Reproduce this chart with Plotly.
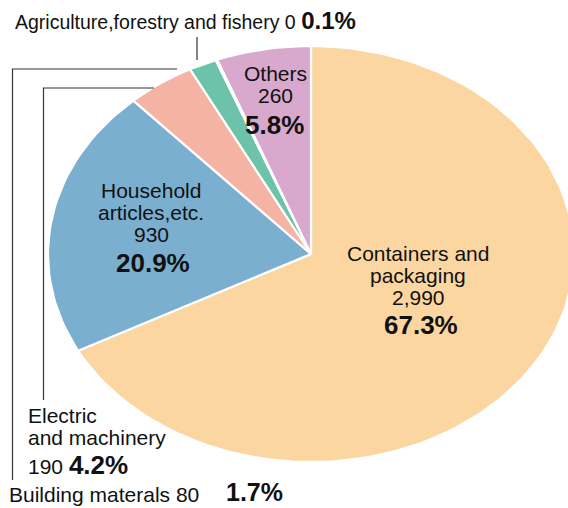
import numpy as np
import plotly.graph_objects as go

categories = ["Containers and packaging", "Household articles,etc.", "Electric and machinery",
              "Building materals", "Agriculture,forestry and fishery", "Others"]
values = [2990, 930, 190, 80, 0, 260]
shares = [67.3, 20.9, 4.2, 1.7, 0.1, 5.8]
colors = ["#FCD6A1", "#7BAFD0", "#F4B3A3", "#6CC3AA", "#F0BE4C", "#D8A9CD"]

W, H = 568, 508
cx, cy, rx, ry = 311, 254, 263, 208

fig = go.Figure()
total = sum(shares)
cum = 0.0
for name, s, c in zip(categories, shares, colors):
    t0 = cum / total * 2 * np.pi
    cum += s
    t1 = cum / total * 2 * np.pi
    t = np.linspace(t0, t1, max(4, int(200 * s / total) + 4))
    xs = np.concatenate([[cx], cx + rx * np.sin(t), [cx]])
    ys = np.concatenate([[cy], cy - ry * np.cos(t), [cy]])
    fig.add_trace(go.Scatter(x=xs, y=ys, mode="lines", fill="toself", fillcolor=c,
                             line=dict(color="white", width=2.2), name=name,
                             hoverinfo="name", showlegend=False))

REG = "Liberation Sans, Arial, sans-serif"
def pct(v, size=26):
    return f"<span style='font-family:Liberation Sans;font-weight:bold;font-size:{size}px'>{v:.1f}%</span>"

ann = []
def add(x, y, text, anchor="center", size=21, yanchor="middle"):
    ann.append(dict(x=x, y=y, text=text, showarrow=False, xanchor=anchor, yanchor=yanchor,
                    font=dict(family=REG, size=size, color="#111111"), xref="x", yref="y"))

# Containers
add(418, 253, "Containers and")
add(418, 275, "packaging")
add(418, 297, f"{values[0]:,}")
add(421, 325, pct(shares[0]))
# Household
add(151, 190, "Household")
add(151, 212, "articles,etc.")
add(151, 234, f"{values[1]:,}")
add(153, 263, pct(shares[1]))
# Others
add(275, 73, "Others")
add(275, 95, f"{values[5]:,}")
add(274, 125, pct(shares[5]))
# Electric
add(26, 415, "Electric", "left")
add(26, 437, "and machinery", "left")
add(26, 465, f"{values[2]:,} " + pct(shares[2]), "left")
# Building
add(7, 508, f"{categories[3]} {values[3]:,}", "left", yanchor="bottom")
add(254, 508, pct(shares[3], 25), "center", yanchor="bottom")
# Agriculture
add(13, 20, f"{categories[4]} {values[4]:,} " + pct(shares[4], 24), "left", 19.5)

line = dict(color="#333333", width=1.2)
shapes = [
    dict(type="path", path="M 197 37 L 197 60", line=line, xref="x", yref="y"),
    dict(type="path", path="M 177 69 L 12.5 69 L 12.5 480", line=line, xref="x", yref="y"),
    dict(type="path", path="M 154 88 L 43.5 88 L 43.5 400", line=line, xref="x", yref="y"),
]

fig.update_layout(
    width=W, height=H, margin=dict(l=0, r=0, t=0, b=0),
    paper_bgcolor="white", plot_bgcolor="white",
    xaxis=dict(range=[0, W], visible=False, fixedrange=True),
    yaxis=dict(range=[H, 0], visible=False, fixedrange=True),
    annotations=ann, shapes=shapes, showlegend=False,
)
fig.write_html("out.html", config={"displayModeBar": False},
               post_script="document.body.style.margin='0px';document.body.style.overflow='hidden';")
